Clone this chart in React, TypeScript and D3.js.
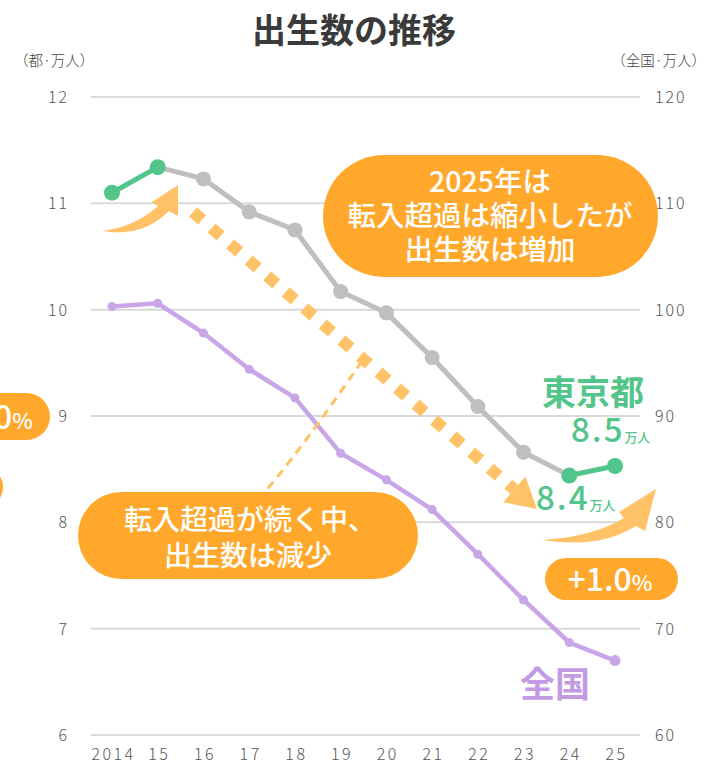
import React from "react";
import * as d3 from "d3";

const years = ["2014", "15", "16", "17", "18", "19", "20", "21", "22", "23", "24", "25"];
const tokyo = [11.1, 11.34, 11.23, 10.92, 10.75, 10.17, 9.97, 9.55, 9.09, 8.66, 8.44, 8.53];
const national = [100.3, 100.6, 97.8, 94.4, 91.7, 86.5, 84.0, 81.2, 77.0, 72.7, 68.7, 67.0];
const leftTicks = [6, 7, 8, 9, 10, 11, 12];
const rightTicks = [60, 70, 80, 90, 100, 110, 120];

const FONT = "'Noto Sans CJK JP', 'Noto Sans', sans-serif";
const ORANGE = "#FFA82B";
const LIGHT = "#FFC266";
const GREEN = "#52C68A";
const GRAY = "#BFBFBF";
const PURPLE = "#C9A6E8";

export default function App() {
  const x = d3.scalePoint<string>().domain(years).range([112, 615]);
  const yL = d3.scaleLinear().domain([6, 12]).range([735, 97]);
  const yR = d3.scaleLinear().domain([60, 120]).range([735, 97]);

  const tk = tokyo.map((v, i) => [x(years[i]) as number, yL(v)] as [number, number]);
  const nt = national.map((v, i) => [x(years[i]) as number, yR(v)] as [number, number]);
  const line = d3.line();

  const grayPts = tk.slice(1, 11);
  const green1 = tk.slice(0, 2);
  const green2 = tk.slice(10, 12);

  // dotted arrow geometry
  const start: [number, number] = [193, 212];
  const tip: [number, number] = [537, 509];
  const dx = tip[0] - start[0], dy = tip[1] - start[1];
  const len = Math.hypot(dx, dy);
  const ux = dx / len, uy = dy / len;
  const nx = -uy, ny = ux;
  const hl = 30, hw = 17;
  const bc: [number, number] = [tip[0] - hl * ux, tip[1] - hl * uy];
  const head = `M${tip[0]},${tip[1]} L${bc[0] + hw * nx},${bc[1] + hw * ny} L${bc[0] - hw * nx},${bc[1] - hw * ny} Z`;

  return (
    <svg width={708} height={766} style={{ position: "absolute", left: 0, top: 0, background: "#fff" }} fontFamily={FONT}>
      <rect width={708} height={766} fill="#fff" />
      <text x={354} y={43} textAnchor="middle" fontSize={34} fontWeight={700} fill="#3a3a3a">出生数の推移</text>
      <text x={14} y={66} fontSize={14.5} fill="#444" fontWeight={300}>（都·万人）</text>
      <text x={706} y={66} fontSize={14.5} fill="#444" fontWeight={300} textAnchor="end">（全国·万人）</text>

      {leftTicks.map((t) => (
        <g key={t}>
          <line x1={91} x2={640} y1={yL(t)} y2={yL(t)} stroke="#D9D9D9" strokeWidth={2} />
          <text x={69} y={yL(t) + 6} textAnchor="end" fontSize={16} fill="#555" fontWeight={300} letterSpacing={2}>{t}</text>
        </g>
      ))}
      {rightTicks.map((t) => (
        <text key={t} x={655} y={yR(t) + 6} fontSize={16} fill="#555" fontWeight={300} letterSpacing={2}>{t}</text>
      ))}
      {years.map((yr) => (
        <text key={yr} x={(x(yr) as number) + 1.5} y={760} textAnchor="middle" fontSize={16} fill="#555" fontWeight={300} letterSpacing={2.5}>{yr}</text>
      ))}

      {/* national */}
      <path d={line(nt) || ""} fill="none" stroke={PURPLE} strokeWidth={4.5} />
      {nt.map((p, i) => (
        <circle key={i} cx={p[0]} cy={p[1]} r={i === nt.length - 1 ? 5.5 : 4.5} fill={PURPLE} />
      ))}

      {/* tokyo */}
      <path d={line(grayPts) || ""} fill="none" stroke={GRAY} strokeWidth={5} />
      {grayPts.slice(1, 9).map((p, i) => (
        <circle key={i} cx={p[0]} cy={p[1]} r={7.5} fill={GRAY} />
      ))}
      <path d={line(green1) || ""} fill="none" stroke={GREEN} strokeWidth={5} />
      <path d={line(green2) || ""} fill="none" stroke={GREEN} strokeWidth={5} />
      {[...green1, ...green2].map((p, i) => (
        <circle key={i} cx={p[0]} cy={p[1]} r={8} fill={GREEN} />
      ))}

      {/* thin dashed */}
      <path d="M258,500 Q300,452 364,358" fill="none" stroke={LIGHT} strokeWidth={3} strokeDasharray="9 6" />

      {/* dotted arrow */}
      <line x1={start[0]} y1={start[1]} x2={bc[0]} y2={bc[1]} stroke={LIGHT} strokeWidth={12} strokeDasharray="12 12.5" />
      <path d={head} fill={LIGHT} />

      {/* swoosh arrows */}
      <path d="M102,231 Q135,227 158,206 L152,202 L178,185 L178,216 L169,211 Q142,238 102,231 Z" fill={LIGHT} />
      <path d="M542,540 Q592,537 624,518 L619,512 L656,489 L645,531 L636,526 Q600,549 542,540 Z" fill={LIGHT} />

      {/* callout 1 */}
      <rect x={323} y={155} width={335} height={122} rx={61} fill={ORANGE} />
      <g fill="#fff" fontSize={28.5} fontWeight={500} textAnchor="middle">
        <text x={490} y={192}>2025年は</text>
        <text x={490} y={226}>転入超過は縮小したが</text>
        <text x={490} y={260}>出生数は増加</text>
      </g>

      {/* callout 2 */}
      <rect x={78} y={492} width={340} height={87} rx={43.5} fill={ORANGE} />
      <g fill="#fff" fontSize={28} fontWeight={500} textAnchor="middle">
        <text x={250} y={530}>転入超過が続く中、</text>
        <text x={248} y={566}>出生数は減少</text>
      </g>

      {/* +1.0% */}
      <rect x={545} y={558} width={133} height={42} rx={21} fill={ORANGE} />
      <text x={610} y={591} textAnchor="middle" fill="#fff" fontWeight={500}>
        <tspan fontSize={32}>+1.0</tspan>
        <tspan fontSize={22}>%</tspan>
      </text>

      {/* partial left pills */}
      <rect x={-120} y={393} width={170} height={47} rx={23.5} fill={ORANGE} />
      <text x={33} y={429} textAnchor="end" fill="#fff" fontWeight={500}>
        <tspan fontSize={32}>−5.0</tspan>
        <tspan fontSize={22}>%</tspan>
      </text>
      <rect x={-200} y={467} width={203} height={40} rx={20} fill={ORANGE} />

      {/* labels */}
      <text x={542} y={405} fontSize={34} fontWeight={700} fill={GREEN}>東京都</text>
      <text x={571} y={442} fill={GREEN} fontWeight={500}>
        <tspan fontSize={33} letterSpacing={2}>8.5</tspan>
        <tspan fontSize={13}>万人</tspan>
      </text>
      <text x={536} y={510} fill={GREEN} fontWeight={500}>
        <tspan fontSize={33} letterSpacing={2}>8.4</tspan>
        <tspan fontSize={13}>万人</tspan>
      </text>
      <text x={520} y={697} fontSize={35} fontWeight={700} fill="#C39BE3">全国</text>
    </svg>
  );
}
